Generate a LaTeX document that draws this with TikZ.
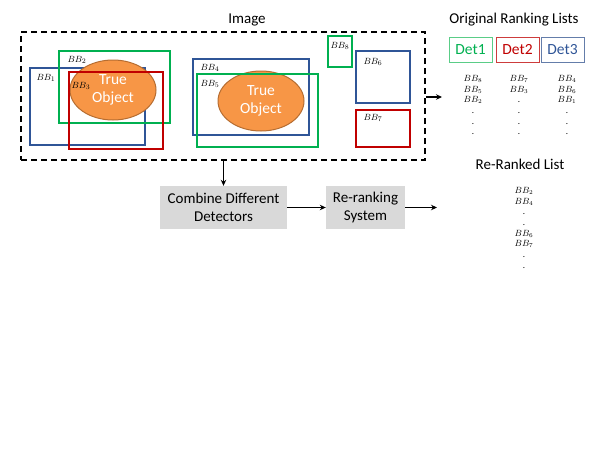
\documentclass[tikz,border=0pt]{standalone}
\usepackage{fontspec}
\setmainfont{Carlito}
\usetikzlibrary{arrows.meta,shapes.geometric}
\definecolor{bbgreen}{RGB}{0,176,80}
\definecolor{bbred}{RGB}{192,0,0}
\definecolor{bbblue}{RGB}{47,85,151}
\definecolor{objfill}{RGB}{247,150,70}
\definecolor{objdraw}{RGB}{182,109,49}
\definecolor{boxgray}{RGB}{217,217,217}
\definecolor{detgreen}{RGB}{90,205,135}
\definecolor{detred}{RGB}{205,60,60}
\definecolor{detblue}{RGB}{100,125,170}
\tikzset{
  bbox/.style={line width=1.7pt},
  bblabel/.style={inner sep=0pt, font=\fontsize{9.5}{10}\selectfont},
  obj/.style={ellipse, draw=objdraw, fill=objfill, line width=1pt, inner sep=0pt,
    minimum width=86pt, minimum height=60pt, text=white, align=center,
    font=\fontsize{15.5}{18}\selectfont},
  title/.style={inner sep=0pt, font=\fontsize{15}{17}\selectfont},
  procbox/.style={fill=boxgray, inner sep=0pt, align=center,
    font=\fontsize{15}{18.5}\selectfont},
  detbox/.style={draw, line width=1pt, inner sep=0pt, minimum width=43pt,
    minimum height=25pt, font=\fontsize{15.5}{17}\selectfont},
  listcol/.style={inner sep=0pt, align=center, font=\fontsize{9}{10.7}\selectfont},
  arr/.style={-{Stealth[length=6pt,width=5.5pt]}, line width=1.4pt},
}
\begin{document}
\begin{tikzpicture}[x=1pt,y=-1pt]
\useasboundingbox (0,0) rectangle (608,456);
% image frame
\node[draw, dashed, dash pattern=on 6pt off 4pt, line width=1.6pt, minimum width=404pt,
  minimum height=128pt, inner sep=0pt] (img) at (223,96) {};
\node[title] (imglabel) at (247,20) {Image};
% left group
\draw[bbox, bbblue] (30,68) rectangle (145,145);
\draw[bbox, bbgreen] (59,51) rectangle (170,123);
\node[obj] (obj1) at (113,90) {True\\Object};
\draw[bbox, bbred] (69,72) rectangle (163,149);
\node[bblabel] (l2) at (77,60) {$BB_2$};
\node[bblabel] (l1) at (46,78) {$BB_1$};
\node[bblabel] (l3) at (81,86) {$BB_3$};
% middle group
\draw[bbox, bbblue] (193,59) rectangle (309,135);
\node[obj] (obj2) at (261,101) {True\\Object};
\draw[bbox, bbgreen] (197,74) rectangle (318,147);
\node[bblabel] (l4) at (210,68) {$BB_4$};
\node[bblabel] (l5) at (210,84) {$BB_5$};
% right small boxes
\draw[bbox, bbgreen] (328,36) rectangle (352,67);
\node[bblabel] (l8) at (340,46) {$BB_8$};
\draw[bbox, bbblue] (356,51) rectangle (410,103);
\node[bblabel] (l6) at (373,62) {$BB_6$};
\draw[bbox, bbred] (356,110) rectangle (410,147);
\node[bblabel] (l7) at (373,118) {$BB_7$};
% original ranking lists
\node[title] (origtitle) at (514,20) {Original Ranking Lists};
\node[detbox, draw=detgreen, text=bbgreen] (det1) at (470.5,49.5) {Det1};
\node[detbox, draw=detred, text=bbred] (det2) at (517.5,49.5) {Det2};
\node[detbox, draw=detblue, text=bbblue] (det3) at (562.5,49.5) {Det3};
\node[listcol, anchor=north] (col1) at (473,75) {$BB_8$\\$BB_5$\\$BB_2$\\.\\.\\.};
\node[listcol, anchor=north] (col2) at (519,75) {$BB_7$\\$BB_3$\\.\\.\\.\\.};
\node[listcol, anchor=north] (col3) at (567,75) {$BB_4$\\$BB_6$\\$BB_1$\\.\\.\\.};
\coordinate (origin) at (442,97);
\draw[arr] (img.east |- origin) -- (origin);
% process boxes
\node[procbox, minimum width=127pt, minimum height=43pt] (comb) at (223.5,207.5) {Combine Different\\Detectors};
\node[procbox, minimum width=79pt, minimum height=43pt] (rerank) at (365.5,207.5) {Re-ranking\\System};
\draw[arr] (img.south -| comb.north) -- (comb.north);
\draw[arr] (comb.east) -- (rerank.west);
\coordinate (rerankend) at (437,207.5);
\draw[arr] (rerank.east) -- (rerankend);
% re-ranked list
\node[title] (retitle) at (520,164) {Re-Ranked List};
\node[listcol, anchor=north] (recol) at (524,187) {$BB_2$\\$BB_4$\\.\\.\\$BB_6$\\$BB_7$\\.\\.};
\end{tikzpicture}
\end{document}
